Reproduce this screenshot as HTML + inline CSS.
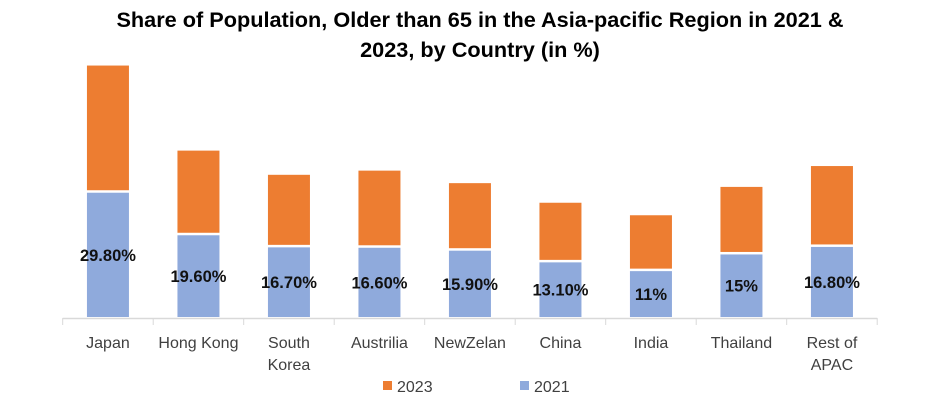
<!DOCTYPE html>
<html><head><meta charset="utf-8"><style>
body{margin:0;background:#fff;font-family:"Liberation Sans",sans-serif}
</style></head><body>
<svg width="928" height="409" xmlns="http://www.w3.org/2000/svg">
<g id="plot"></g>
<text x="480" y="27" text-anchor="middle" font-size="21.7" font-weight="bold">Share of Population,  Older than 65 in the Asia-pacific Region in 2021 &amp;</text>
<text x="480" y="57" text-anchor="middle" font-size="21.7" font-weight="bold">2023, by Country (in %)</text>
<rect x="383" y="381" width="9" height="9" fill="#ED7D31"/>
<text x="397" y="392" font-size="16" fill="#404040">2023</text>
<rect x="520" y="381" width="9" height="9" fill="#8FAADC"/>
<text x="534" y="392" font-size="16" fill="#404040">2021</text>
</svg>
<script>
const categories=[["Japan"],["Hong Kong"],["South","Korea"],["Austrilia"],["NewZelan"],["China"],["India"],["Thailand"],["Rest of","APAC"]];
const values2021=[29.8,19.6,16.7,16.6,15.9,13.1,11,15,16.8];
const labels2021=["29.80%","19.60%","16.70%","16.60%","15.90%","13.10%","11%","15%","16.80%"];
const values2023=[29.9,19.7,16.8,17.9,15.6,13.7,12.8,15.6,18.8];
const NS="http://www.w3.org/2000/svg";
const g=document.getElementById('plot');
const x0=62.7,step=90.5,base=317,k=4.17,bw=42;
const xC=i=>x0+step*(i+0.5);
const yS=v=>v*k;
function mk(t,a){const e=document.createElementNS(NS,t);for(const n in a)e.setAttribute(n,a[n]);g.appendChild(e);return e;}
const ax=mk('line',{x1:x0,x2:x0+step*9,y1:318.5,y2:318.5,stroke:'#d9d9d9','stroke-width':1.5});


for(let i=0;i<=9;i++){const t=mk('line',{x1:x0+step*i,x2:x0+step*i,y1:318,y2:325,stroke:'#d9d9d9','stroke-width':1});

}
categories.forEach((c,i)=>{
const cx=xC(i);
const h1=yS(values2021[i]),h2=yS(values2023[i]);
const b1=mk('rect',{x:cx-bw/2,y:base-h1,width:bw,height:h1,fill:'#8FAADC'});


const b2=mk('rect',{x:cx-bw/2,y:base-h1-2.5-h2,width:bw,height:h2,fill:'#ED7D31'});


const lb=mk('text',{x:cx,y:base-h1/2+6,'text-anchor':'middle','font-size':16.5,'font-weight':'bold',fill:'#111'});
lb.textContent=labels2021[i];


c.forEach((line,j)=>{const t=mk('text',{x:cx,y:348+j*22,'text-anchor':'middle','font-size':16,fill:'#404040'});
t.textContent=line;

});
});
</script>
</body></html>
